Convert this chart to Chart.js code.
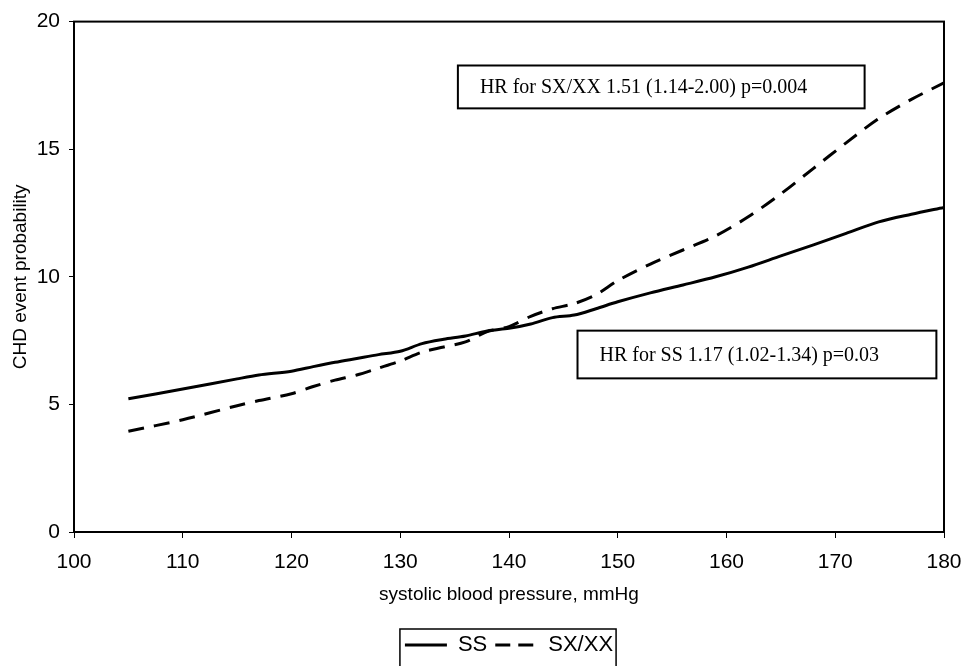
<!DOCTYPE html>
<html>
<head>
<meta charset="utf-8">
<script src="https://cdn.jsdelivr.net/npm/chart.js@4.4.1/dist/chart.umd.min.js"></script>
<style>
  html, body { margin: 0; padding: 0; background: #fff; }
  #wrap { width: 964px; height: 666px; }
</style>
</head>
<body>
<div id="wrap"><canvas id="chd-chart" width="964" height="666"></canvas></div>
<script>
// systolic blood pressure (mmHg)
const sbp = [105, 110, 115, 117, 120, 122, 124, 126, 128, 130, 132, 134, 136, 138, 140,
             142, 144, 146, 148, 150, 153, 156, 159, 162, 165, 168, 171, 174, 177, 180];
// CHD event probability
const ssValues = [5.22, 5.6, 6.0, 6.15, 6.3, 6.48, 6.65, 6.8, 6.95, 7.08, 7.38, 7.55, 7.68, 7.88, 7.98,
                  8.15, 8.4, 8.5, 8.75, 9.02, 9.37, 9.68, 10.0, 10.38, 10.82, 11.25, 11.7, 12.15, 12.45, 12.72];
const sxxxValues = [3.95, 4.4, 4.95, 5.15, 5.42, 5.7, 5.95, 6.15, 6.42, 6.7, 7.05, 7.25, 7.45, 7.85, 8.05,
                    8.45, 8.75, 8.95, 9.3, 9.85, 10.5, 11.05, 11.6, 12.35, 13.25, 14.25, 15.25, 16.2, 16.95, 17.6];
const seriesNames = ['SS', 'SX/XX'];
const xTicks = [100, 110, 120, 130, 140, 150, 160, 170, 180];
const yTicks = [0, 5, 10, 15, 20];
const notes = ['HR for SX/XX 1.51 (1.14-2.00) p=0.004', 'HR for SS 1.17 (1.02-1.34) p=0.03'];

const sansFont = 'Liberation Sans, Arial, sans-serif';

function toPoints(xs, ys) {
    return xs.map((x, i) => ({ x: x, y: ys[i] }));
}

// boxes with the hazard ratios, placed in data units
const noteBoxes = [
    { text: notes[0], x0: 135.3, x1: 172.7, y0: 18.28, y1: 16.6 },
    { text: notes[1], x0: 146.3, x1: 179.3, y0: 7.89, y1: 6.02 }
];

const framePlugin = {
    id: 'frame',
    afterDatasetsDraw(chart) {
        const ctx = chart.ctx;
        const a = chart.chartArea;
        const xs = chart.scales.x, ys = chart.scales.y;
        ctx.save();
        ctx.strokeStyle = '#000';
        ctx.lineWidth = 2;
        ctx.strokeRect(a.left, a.top, a.right - a.left, a.bottom - a.top);

        noteBoxes.forEach(b => {
            const l = xs.getPixelForValue(b.x0), r = xs.getPixelForValue(b.x1);
            const t = ys.getPixelForValue(b.y0), btm = ys.getPixelForValue(b.y1);
            ctx.fillStyle = '#fff';
            ctx.fillRect(l, t, r - l, btm - t);
            ctx.lineWidth = 2;
            ctx.strokeRect(l, t, r - l, btm - t);
            ctx.fillStyle = '#000';
            ctx.font = '20px "Liberation Serif", "Times New Roman", serif';
            ctx.textBaseline = 'middle';
            ctx.textAlign = 'left';
            ctx.fillText(b.text, l + 22, (t + btm) / 2 + 1);
        });
        ctx.restore();
    },
    afterDraw(chart) {
        // border round the legend, as in the figure
        const lg = chart.legend;
        if (!lg || !lg.legendHitBoxes || !lg.legendHitBoxes.length) return;
        const boxes = lg.legendHitBoxes;
        const minX = Math.min(...boxes.map(h => h.left));
        const maxX = Math.max(...boxes.map(h => h.left + h.width));
        const top = Math.min(...boxes.map(h => h.top));
        const ctx = chart.ctx;
        ctx.save();
        ctx.strokeStyle = '#000';
        ctx.lineWidth = 1.5;
        ctx.strokeRect(minX - 5, top - 5, maxX - minX + 8, 60);
        ctx.restore();
    }
};

const ctx = document.getElementById('chd-chart').getContext('2d');
const chartInstance = new Chart(ctx, {
    type: 'line',
    data: {
        datasets: [{
            label: seriesNames[0],
            data: toPoints(sbp, ssValues),
            borderColor: '#000',
            borderWidth: 3,
            pointRadius: 0,
            tension: 0.3,
            fill: false
        }, {
            label: seriesNames[1],
            data: toPoints(sbp, sxxxValues),
            borderColor: '#000',
            borderWidth: 3,
            borderDash: [16, 10],
            pointRadius: 0,
            tension: 0.3,
            fill: false
        }]
    },
    options: {
        responsive: false,
        animation: false,
        layout: { padding: { top: 20, right: 0, left: 0, bottom: 0 } },
        plugins: {
            tooltip: { enabled: false },
            legend: {
                position: 'bottom',
                fullSize: false,
                labels: {
                    usePointStyle: true,
                    pointStyle: 'line',
                    pointStyleWidth: 42,
                    color: '#000',
                    padding: 8,
                    font: { family: sansFont, size: 22 },
                    generateLabels: chart => {
                        const items = Chart.defaults.plugins.legend.labels.generateLabels(chart);
                        items.forEach(item => {
                            const ds = chart.data.datasets[item.datasetIndex];
                            item.lineDash = ds.borderDash ? [15, 8] : [];
                            item.lineWidth = 3;
                            item.strokeStyle = '#000';
                        });
                        return items;
                    }
                }
            }
        },
        scales: {
            x: {
                type: 'linear',
                min: 100,
                max: 180,
                afterBuildTicks: scale => { scale.ticks = xTicks.map(v => ({ value: v })); },
                afterFit: scale => { scale.height = 94; scale.paddingRight = 20; },
                grid: { display: true, drawOnChartArea: false, drawTicks: true, tickLength: 6, color: '#000' },
                border: { display: true, color: '#000', width: 2 },
                ticks: { color: '#000', padding: 12, maxRotation: 0, font: { family: sansFont, size: 21 } },
                title: {
                    display: true,
                    text: 'systolic blood pressure, mmHg',
                    color: '#000',
                    padding: { top: 0, bottom: 20 },
                    font: { family: sansFont, size: 19 }
                }
            },
            y: {
                min: 0,
                max: 20,
                afterBuildTicks: scale => { scale.ticks = yTicks.map(v => ({ value: v })); },
                afterFit: scale => { scale.width = 74; },
                grid: { display: true, drawOnChartArea: false, drawTicks: true, tickLength: 5, color: '#000' },
                border: { display: true, color: '#000', width: 2 },
                ticks: { color: '#000', padding: 9, font: { family: sansFont, size: 21 } },
                title: {
                    display: true,
                    text: 'CHD event probability',
                    color: '#000',
                    padding: { top: 9, bottom: 0 },
                    font: { family: sansFont, size: 19 }
                }
            }
        }
    },
    plugins: [framePlugin]
});
</script>
</body>
</html>
